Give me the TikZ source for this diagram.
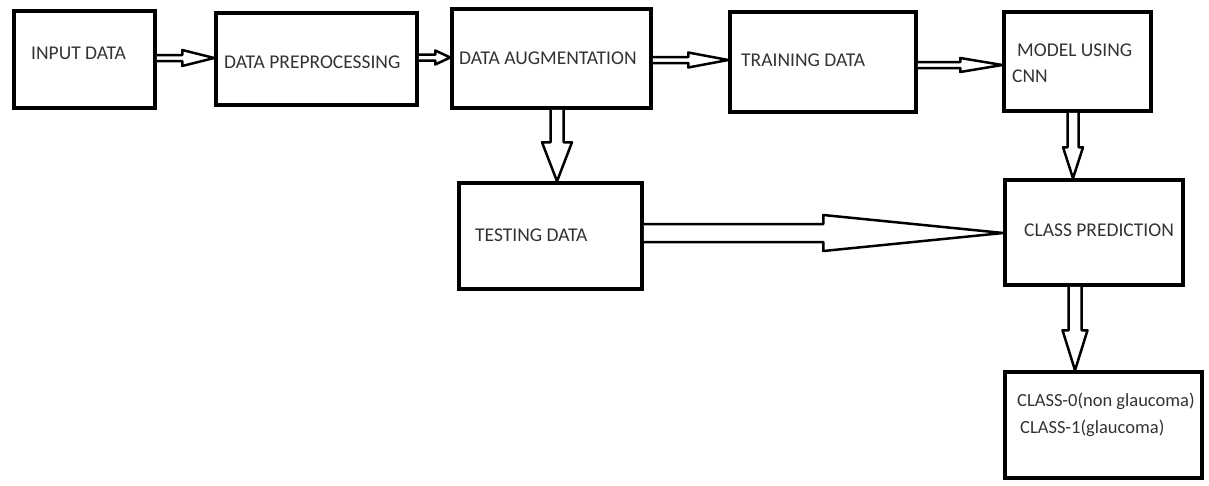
\documentclass[tikz,border=0pt]{standalone}
\usepackage{fontspec}
\setmainfont{Carlito}
\usetikzlibrary{calc}

\tikzset{
	blk/.style={draw, rectangle, line width=3.5pt, inner sep=0pt},
	lbl/.style={font=\fontsize{19.5}{23}\selectfont, text=black!80, inner sep=0pt, anchor=base west},
	smalllbl/.style={lbl, font=\fontsize{18.5}{22}\selectfont},
	blkarrow/.style={draw, fill=white, line width=2.5pt, line join=round},
}

% hollow block arrows: from, to, y (or x), shaft half width, head half width, head length
\newcommand{\blockright}[6]{%
	\draw[blkarrow] ($(#1.east |- 0,#3)+(0,-#4)$) -- ($(#2.west |- 0,#3)+(-#6,-#4)$) -- ++(0,#4-#5)
		-- (#2.west |- 0,#3) -- ($(#2.west |- 0,#3)+(-#6,#5)$) -- ++(0,#4-#5) -- ($(#1.east |- 0,#3)+(0,#4)$);}
\newcommand{\blockdown}[6]{%
	\draw[blkarrow] ($(#1.south -| #3,0)+(-#4,0)$) -- ($(#2.north -| #3,0)+(-#4,-#6)$) -- ++(#4-#5,0)
		-- (#2.north -| #3,0) -- ($(#2.north -| #3,0)+(#5,-#6)$) -- ++(#4-#5,0) -- ($(#1.south -| #3,0)+(#4,0)$);}

\begin{document}
\begin{tikzpicture}[x=1pt, y=-1pt]
	\useasboundingbox (0,0) rectangle (1209,485);

	% boxes
	\draw (84.5,59.5) node (inp) [blk, minimum width=141, minimum height=97] {};
	\draw (316.5,59) node (pre) [blk, minimum width=201, minimum height=92] {};
	\draw (551.5,58.5) node (aug) [blk, minimum width=199, minimum height=99] {};
	\draw (823,62) node (train) [blk, minimum width=186, minimum height=100] {};
	\draw (1077.5,61.5) node (model) [blk, minimum width=147, minimum height=99] {};
	\draw (550.5,236) node (test) [blk, minimum width=183, minimum height=106] {};
	\draw (1094,232.5) node (pred) [blk, minimum width=178, minimum height=105] {};
	\draw (1103.5,425) node (cls) [blk, minimum width=197, minimum height=106] {};

	% texts
	\draw (31,59) node (inplbl) [lbl] {INPUT DATA};
	\draw (224,68) node (prelbl) [lbl] {DATA PREPROCESSING};
	\draw (459,64) node (auglbl) [lbl] {DATA AUGMENTATION};
	\draw (741,66) node (trainlbl) [lbl] {TRAINING DATA};
	\draw (1017,56) node (modellbl) [lbl] {MODEL USING};
	\draw (1012,82) node (cnnlbl) [lbl] {CNN};
	\draw (475,241) node (testlbl) [lbl] {TESTING DATA};
	\draw (1024,236) node (predlbl) [lbl] {CLASS PREDICTION};
	\draw (1017,406) node (cls0lbl) [smalllbl] {CLASS-0(non glaucoma)};
	\draw (1020,433) node (cls1lbl) [smalllbl] {CLASS-1(glaucoma)};

	% arrows
	\blockright{inp}{pre}{58}{3}{8}{32}
	\blockright{pre}{aug}{57.5}{3}{7}{15}
	\blockright{aug}{train}{60}{3}{7.5}{40}
	\blockright{train}{model}{65}{3}{7}{42}
	\blockright{test}{pred}{233}{9}{18}{180}
	\blockdown{aug}{test}{557}{6.5}{15}{39}
	\blockdown{model}{pred}{1073}{5.5}{10}{31}
	\blockdown{pred}{cls}{1075}{6.5}{12.5}{40}
\end{tikzpicture}
\end{document}
